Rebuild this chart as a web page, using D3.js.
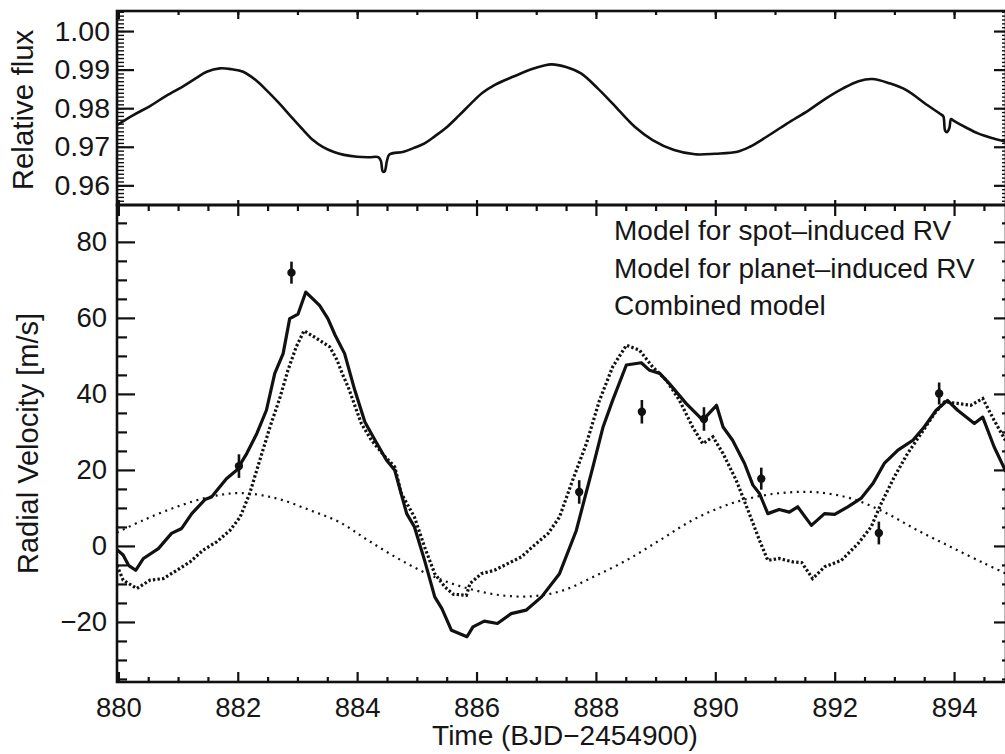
<!DOCTYPE html>
<html>
<head>
<meta charset="utf-8">
<script src="https://cdn.jsdelivr.net/npm/d3@7"></script>
<style>
  html, body { margin: 0; padding: 0; background: #fff; }
  svg { display: block; }
  text { font-family: "Liberation Sans", Arial, Helvetica, sans-serif; fill: #161616; }
</style>
</head>
<body>
<svg id="chart" width="1005" height="754"></svg>
<script>
// ---- Light curve (relative flux) ----
const fluxTime = [879.977, 880.25, 880.53, 880.80, 881.09, 881.30, 881.48, 881.70, 881.90, 882.09,
  882.30, 882.48, 882.68, 882.87, 883.07, 883.26, 883.43, 883.60, 883.78, 884.00,
  884.20, 884.36, 884.40, 884.43, 884.46, 884.50, 884.54, 884.78, 884.95, 885.13,
  885.30, 885.48, 885.70, 885.91, 886.10, 886.30, 886.62, 886.97, 887.25, 887.50,
  887.75, 888.03, 888.20, 888.38, 888.65, 888.95, 889.31, 889.66, 890.00, 890.37,
  890.58, 890.86, 891.20, 891.57, 891.85, 892.14, 892.40, 892.63, 892.92, 893.20,
  893.55, 893.78, 893.82, 893.85, 893.88, 893.92, 893.95, 893.99, 894.20, 894.40,
  894.65, 894.87];
const fluxValue = [0.9756, 0.9782, 0.98056, 0.9832, 0.98574, 0.9878, 0.98945, 0.99033, 0.9901, 0.98945,
  0.9873, 0.98470, 0.9815, 0.97822, 0.9748, 0.97174, 0.9699, 0.96871, 0.96790, 0.96740,
  0.96727, 0.96728, 0.96620, 0.96360, 0.96360, 0.96640, 0.96800, 0.96871, 0.9697, 0.97089,
  0.9727, 0.97478, 0.9780, 0.98126, 0.9840, 0.9860, 0.9882, 0.99033, 0.99137, 0.9907,
  0.98903, 0.98515, 0.9825, 0.97952, 0.9752, 0.97174, 0.96915, 0.96804, 0.96820, 0.96871,
  0.97000, 0.97260, 0.9760, 0.97952, 0.9825, 0.98515, 0.9870, 0.98756, 0.98644, 0.98470,
  0.98082, 0.97840, 0.97790, 0.97420, 0.97380, 0.97480, 0.97720, 0.97680, 0.9750, 0.97348,
  0.9722, 0.97130];

// ---- RV model: spot-induced ----
const spotTime = [879.977, 880.08, 880.31, 880.53, 880.75, 880.98, 881.20, 881.42, 881.65, 881.87,
  882.04, 882.20, 882.37, 882.54, 882.71, 882.84, 882.98, 883.11, 883.32, 883.54,
  883.66, 883.76, 883.85, 884.07, 884.24, 884.45, 884.63, 884.74, 884.96, 885.13,
  885.30, 885.47, 885.61, 885.83, 885.89, 886.08, 886.30, 886.53, 886.75, 886.97,
  887.20, 887.39, 887.61, 887.84, 888.06, 888.28, 888.51, 888.73, 888.95, 889.18,
  889.40, 889.62, 889.79, 889.96, 890.13, 890.35, 890.57, 890.74, 890.88, 891.07,
  891.30, 891.45, 891.63, 891.83, 892.11, 892.39, 892.61, 892.78, 893.00, 893.22,
  893.45, 893.67, 893.84, 894.06, 894.28, 894.48, 894.67, 894.87];
const spotRV = [-5.1, -9.0, -11.2, -9.0, -8.6, -6.4, -4.2, -1.1, 1.1, 4.1,
  7.6, 13.8, 22.6, 31.3, 39.2, 46.2, 52.4, 56.6, 54.6, 52.4,
  49.0, 45.0, 41.8, 32.2, 27.8, 23.8, 20.8, 13.8, 7.6, -0.3,
  -7.3, -10.8, -12.7, -13.0, -9.9, -7.3, -6.4, -4.6, -2.9, 0.2,
  3.3, 7.6, 17.3, 26.9, 38.3, 47.1, 52.8, 51.5, 47.1, 43.6,
  38.3, 31.3, 26.9, 28.7, 24.3, 17.3, 8.5, 1.5, -3.8, -3.3,
  -4.2, -4.4, -8.6, -5.5, -3.8, 0.6, 5.0, 11.2, 18.2, 24.3,
  29.6, 34.8, 37.9, 37.5, 37.0, 38.8, 33.1, 27.5];

// ---- RV model: planet-induced ----
const planetTime = [879.977, 880.42, 880.98, 881.53, 882.05, 882.65, 883.21, 883.70, 884.18, 884.74,
  885.30, 885.86, 886.42, 886.97, 887.45, 887.95, 888.51, 889.07, 889.62, 890.18,
  890.74, 891.25, 891.72, 892.27, 892.83, 893.39, 893.95, 894.51, 894.87];
const planetRV = [3.5, 6.8, 10.3, 12.9, 13.9, 12.5, 9.4, 6.3, 1.5, -3.8,
  -8.2, -11.2, -13.0, -13.2, -11.7, -8.2, -3.8, 1.5, 6.8, 10.7,
  13.1, 14.1, 14.1, 12.5, 8.9, 4.1, -0.3, -4.6, -7.3];

// ---- RV model: combined ----
const combinedTime = [879.977, 880.08, 880.17, 880.29, 880.42, 880.67, 880.89, 881.06, 881.23, 881.45,
  881.56, 881.81, 881.98, 882.15, 882.32, 882.48, 882.62, 882.76, 882.87, 883.01,
  883.14, 883.37, 883.51, 883.63, 883.79, 883.96, 884.13, 884.30, 884.49, 884.63,
  884.83, 884.96, 885.13, 885.30, 885.42, 885.58, 885.84, 885.94, 886.13, 886.35,
  886.58, 886.83, 887.09, 887.39, 887.67, 887.95, 888.12, 888.28, 888.51, 888.76,
  888.90, 889.07, 889.23, 889.51, 889.79, 890.02, 890.13, 890.29, 890.49, 890.63,
  890.74, 890.88, 891.07, 891.24, 891.38, 891.61, 891.83, 892.00, 892.22, 892.44,
  892.64, 892.83, 893.06, 893.31, 893.50, 893.70, 893.89, 894.06, 894.34, 894.48,
  894.67, 894.87];
const combinedRV = [-1.0, -2.4, -5.1, -6.4, -3.3, -0.7, 3.3, 4.6, 8.5, 12.2,
  12.9, 17.7, 19.9, 24.3, 29.6, 35.7, 45.4, 50.6, 59.8, 61.0,
  66.8, 63.3, 59.8, 55.5, 50.6, 41.0, 32.6, 27.8, 22.6, 19.9,
  8.5, 5.0, -3.8, -13.4, -16.5, -22.2, -23.9, -21.3, -19.8, -20.4,
  -17.8, -16.9, -13.4, -7.3, 4.0, 20.8, 31.3, 38.3, 47.6, 48.2,
  46.2, 45.4, 42.7, 37.5, 33.1, 37.0, 31.3, 27.8, 21.7, 16.0,
  13.8, 8.5, 9.6, 8.9, 10.3, 5.4, 8.5, 8.3, 10.3, 12.5,
  16.4, 21.7, 25.2, 27.8, 31.3, 35.7, 38.3, 35.7, 32.2, 33.9,
  26.1, 19.5];

// ---- Observed radial velocities ----
const obsTime = [882.02, 882.90, 887.72, 888.77, 889.81, 890.77, 892.74, 893.75];
const obsRV = [21.0, 71.9, 14.2, 35.3, 33.4, 17.7, 3.4, 40.1];
const obsErr = [3.1, 2.9, 3.1, 3.1, 3.1, 2.9, 3.0, 2.9];

// ---- Ticks and labels ----
const timeTicks = [880, 882, 884, 886, 888, 890, 892, 894];
const fluxTicks = [0.96, 0.97, 0.98, 0.99, 1.00];
const rvTicks = [-20, 0, 20, 40, 60, 80];
const legendLabels = ["Model for spot\u2013induced RV", "Model for planet\u2013induced RV", "Combined model"];
const xTitle = "Time (BJD\u22122454900)";
const fluxTitle = "Relative flux";
const rvTitle = "Radial Velocity [m/s]";

// ---- Layout ----
const L = 117, R = 1006;
const topT = 11, topB = 205, botT = 205, botB = 682;

const svg = d3.select("#chart");
const x = d3.scaleLinear().domain([879.977, 894.87]).range([L, R]);
const yF = d3.scaleLinear().domain([0.9549, 1.0052]).range([topB, topT]);
const yV = d3.scaleLinear().domain([-35.8, 89.7]).range([botB, botT]);

const ink = "#111";

const minorTime = d3.range(880, 895.01, 0.5).filter(t => t <= 894.87);
const minorTimeTop = d3.range(880, 895.01, 1).filter(t => t <= 894.87);
const minorFlux = d3.range(955, 1006, 1).map(v => v / 1000).filter(v => v >= 0.9549 && v <= 1.0052);
const minorRV = d3.range(-35, 90, 5).filter(v => v >= -35.8 && !rvTicks.includes(v));

function styleAxis(g, size) {
  g.select(".domain").remove();
  g.selectAll(".tick line").attr("stroke", ink).attr("stroke-width", 2.2);
  g.selectAll(".tick text").attr("font-size", size || 27).attr("fill", "#161616")
    .attr("font-family", '"Liberation Sans", Arial, Helvetica, sans-serif');
}
function axisAt(axis, tx, ty, size) {
  const g = svg.append("g").attr("transform", `translate(${tx},${ty})`).call(axis);
  styleAxis(g, size);
  return g;
}

// ---- Top panel: flux axes ----
axisAt(d3.axisLeft(yF).tickValues(minorFlux).tickSize(-7).tickFormat(""), L, 0)
  .selectAll(".tick line").attr("stroke-width", 1.4);
axisAt(d3.axisLeft(yF).tickValues(fluxTicks).tickSize(-17).tickPadding(7).tickFormat(d3.format(".2f")), L, 0, 28.5);
axisAt(d3.axisRight(yF).tickValues(minorFlux).tickSize(-4).tickFormat(""), R, 0)
  .selectAll(".tick line").attr("stroke-width", 1.4);
axisAt(d3.axisRight(yF).tickValues(fluxTicks).tickSize(-12).tickFormat(""), R, 0);
axisAt(d3.axisBottom(x).tickValues(minorTimeTop).tickSize(4).tickFormat(""), 0, topT);
axisAt(d3.axisBottom(x).tickValues(timeTicks).tickSize(8).tickFormat(""), 0, topT);
axisAt(d3.axisTop(x).tickValues(timeTicks).tickSize(5).tickFormat(""), 0, topB);

// ---- Bottom panel: RV axes ----
axisAt(d3.axisLeft(yV).tickValues(minorRV).tickSize(-10).tickFormat(""), L, 0);
axisAt(d3.axisLeft(yV).tickValues(rvTicks).tickSize(-18).tickPadding(10).tickFormat(d3.format("d")), L, 0, 27.5);
axisAt(d3.axisRight(yV).tickValues(minorRV).tickSize(-4).tickFormat(""), R, 0);
axisAt(d3.axisRight(yV).tickValues(rvTicks).tickSize(-12).tickFormat(""), R, 0);
axisAt(d3.axisBottom(x).tickValues(minorTime.filter(t => !timeTicks.includes(t))).tickSize(6).tickFormat(""), 0, botT);
axisAt(d3.axisBottom(x).tickValues(timeTicks).tickSize(11).tickFormat(""), 0, botT);
axisAt(d3.axisTop(x).tickValues(minorTime.filter(t => !timeTicks.includes(t))).tickSize(5).tickFormat(""), 0, botB);
axisAt(d3.axisBottom(x).tickValues(timeTicks).tickSize(-10).tickPadding(15).tickFormat(d3.format("d")), 0, botB, 27.5);

// ---- Panel frames ----
svg.append("rect").attr("x", L).attr("y", topT).attr("width", R - L).attr("height", topB - topT)
  .attr("fill", "none").attr("stroke", ink).attr("stroke-width", 2.6);
svg.append("rect").attr("x", L).attr("y", botT).attr("width", R - L).attr("height", botB - botT)
  .attr("fill", "none").attr("stroke", ink).attr("stroke-width", 2.6);

// ---- Flux curve ----
const fluxLine = d3.line().x(d => x(d[0])).y(d => yF(d[1])).curve(d3.curveCatmullRom.alpha(0.5));
svg.append("path").datum(d3.zip(fluxTime, fluxValue))
  .attr("d", fluxLine).attr("fill", "none").attr("stroke", ink)
  .attr("stroke-width", 2.6).attr("stroke-linejoin", "round");

// ---- RV curves ----
svg.append("clipPath").attr("id", "rvclip").append("rect")
  .attr("x", L).attr("y", botT).attr("width", R - L).attr("height", botB - botT);
const rvG = svg.append("g").attr("clip-path", "url(#rvclip)");

const planetLine = d3.line().x(d => x(d[0])).y(d => yV(d[1])).curve(d3.curveCatmullRom.alpha(0.5));
rvG.append("path").datum(d3.zip(planetTime, planetRV))
  .attr("d", planetLine).attr("fill", "none").attr("stroke", ink)
  .attr("stroke-width", 2.2).attr("stroke-dasharray", "2,4.6");

const rvLine = d3.line().x(d => x(d[0])).y(d => yV(d[1]));
rvG.append("path").datum(d3.zip(spotTime, spotRV))
  .attr("d", rvLine).attr("fill", "none").attr("stroke", ink)
  .attr("stroke-width", 3.2).attr("stroke-dasharray", "2.4,2.2");

rvG.append("path").datum(d3.zip(combinedTime, combinedRV))
  .attr("d", rvLine).attr("fill", "none").attr("stroke", ink)
  .attr("stroke-width", 3.2).attr("stroke-linejoin", "round");

// ---- Observations with error bars ----
const obs = obsTime.map((t, i) => ({ t, v: obsRV[i], e: obsErr[i] }));
const og = svg.append("g");
og.selectAll("line.err").data(obs).join("line").attr("class", "err")
  .attr("x1", d => x(d.t)).attr("x2", d => x(d.t))
  .attr("y1", d => yV(d.v - d.e)).attr("y2", d => yV(d.v + d.e))
  .attr("stroke", ink).attr("stroke-width", 2.6);
og.selectAll("circle").data(obs).join("circle")
  .attr("cx", d => x(d.t)).attr("cy", d => yV(d.v)).attr("r", 4.2).attr("fill", ink);

// ---- Legend ----
svg.append("g").selectAll("text").data(legendLabels).join("text")
  .attr("x", 614).attr("y", (d, i) => 240 + i * 37.5)
  .attr("font-size", 28).text(d => d);

// ---- Axis titles ----
svg.append("text").attr("x", 565).attr("y", 745)
  .attr("text-anchor", "middle").attr("font-size", 28).text(xTitle);
svg.append("text").attr("transform", `translate(33,${(topT + topB) / 2 + 2}) rotate(-90)`)
  .attr("text-anchor", "middle").attr("font-size", 29.5).text(fluxTitle);
svg.append("text").attr("transform", `translate(38,${(botT + botB) / 2}) rotate(-90)`)
  .attr("text-anchor", "middle").attr("font-size", 29).text(rvTitle);
</script>
</body>
</html>
